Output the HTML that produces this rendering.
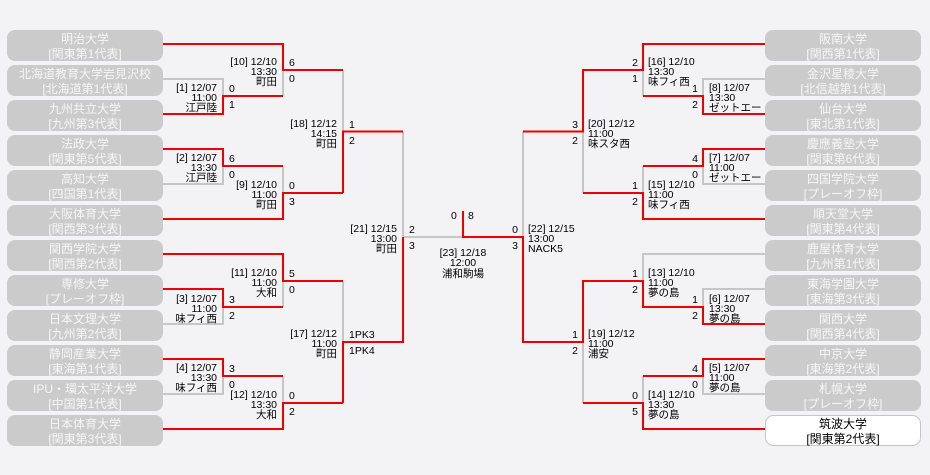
<!DOCTYPE html>
<html><head><meta charset="utf-8"><style>
html,body{margin:0;padding:0;background:#f3f2f4;}
svg{display:block;font-family:"Liberation Sans","Noto Sans CJK JP",sans-serif;}
.b{fill:#cbcbcb;}
.bt{fill:#f6f6f6;font-size:12px;text-anchor:middle;}
.l{font-size:10.5px;fill:#000;}
.e{text-anchor:end;}
.r{stroke:#ee0000;stroke-width:2;fill:none;}
.g{stroke:#c6c6c6;stroke-width:2;fill:none;}
</style></head><body>
<svg width="930" height="475" viewBox="0 0 930 475">
<g>
<rect class="b" x="7" y="30" width="156" height="31" rx="8"/>
<rect class="b" x="7" y="65" width="156" height="31" rx="8"/>
<rect class="b" x="7" y="100" width="156" height="31" rx="8"/>
<rect class="b" x="7" y="135" width="156" height="31" rx="8"/>
<rect class="b" x="7" y="170" width="156" height="31" rx="8"/>
<rect class="b" x="7" y="205" width="156" height="31" rx="8"/>
<rect class="b" x="7" y="240" width="156" height="31" rx="8"/>
<rect class="b" x="7" y="275" width="156" height="31" rx="8"/>
<rect class="b" x="7" y="310" width="156" height="31" rx="8"/>
<rect class="b" x="7" y="345" width="156" height="31" rx="8"/>
<rect class="b" x="7" y="380" width="156" height="31" rx="8"/>
<rect class="b" x="7" y="415" width="156" height="31" rx="8"/>
<text class="bt" x="85" y="43">明治大学</text><text class="bt" x="85" y="58">[関東第1代表]</text>
<text class="bt" x="85" y="78">北海道教育大学岩見沢校</text><text class="bt" x="85" y="93">[北海道第1代表]</text>
<text class="bt" x="85" y="113">九州共立大学</text><text class="bt" x="85" y="128">[九州第3代表]</text>
<text class="bt" x="85" y="148">法政大学</text><text class="bt" x="85" y="163">[関東第5代表]</text>
<text class="bt" x="85" y="183">高知大学</text><text class="bt" x="85" y="198">[四国第1代表]</text>
<text class="bt" x="85" y="218">大阪体育大学</text><text class="bt" x="85" y="233">[関西第3代表]</text>
<text class="bt" x="85" y="253">関西学院大学</text><text class="bt" x="85" y="268">[関西第2代表]</text>
<text class="bt" x="85" y="288">専修大学</text><text class="bt" x="85" y="303">[プレーオフ枠]</text>
<text class="bt" x="85" y="323">日本文理大学</text><text class="bt" x="85" y="338">[九州第2代表]</text>
<text class="bt" x="85" y="358">静岡産業大学</text><text class="bt" x="85" y="373">[東海第1代表]</text>
<text class="bt" x="85" y="393">IPU・環太平洋大学</text><text class="bt" x="85" y="408">[中国第1代表]</text>
<text class="bt" x="85" y="428">日本体育大学</text><text class="bt" x="85" y="443">[関東第3代表]</text>
</g>
<g>
<rect class="b" x="765" y="30" width="156" height="31" rx="8"/>
<rect class="b" x="765" y="65" width="156" height="31" rx="8"/>
<rect class="b" x="765" y="100" width="156" height="31" rx="8"/>
<rect class="b" x="765" y="135" width="156" height="31" rx="8"/>
<rect class="b" x="765" y="170" width="156" height="31" rx="8"/>
<rect class="b" x="765" y="205" width="156" height="31" rx="8"/>
<rect class="b" x="765" y="240" width="156" height="31" rx="8"/>
<rect class="b" x="765" y="275" width="156" height="31" rx="8"/>
<rect class="b" x="765" y="310" width="156" height="31" rx="8"/>
<rect class="b" x="765" y="345" width="156" height="31" rx="8"/>
<rect class="b" x="765" y="380" width="156" height="31" rx="8"/>
<rect x="765.5" y="415.5" width="155" height="30" rx="8" fill="#fff" stroke="#c6c6c6"/>
<text class="bt" x="843" y="43">阪南大学</text><text class="bt" x="843" y="58">[関西第1代表]</text>
<text class="bt" x="843" y="78">金沢星稜大学</text><text class="bt" x="843" y="93">[北信越第1代表]</text>
<text class="bt" x="843" y="113">仙台大学</text><text class="bt" x="843" y="128">[東北第1代表]</text>
<text class="bt" x="843" y="148">慶應義塾大学</text><text class="bt" x="843" y="163">[関東第6代表]</text>
<text class="bt" x="843" y="183">四国学院大学</text><text class="bt" x="843" y="198">[プレーオフ枠]</text>
<text class="bt" x="843" y="218">順天堂大学</text><text class="bt" x="843" y="233">[関東第4代表]</text>
<text class="bt" x="843" y="253">鹿屋体育大学</text><text class="bt" x="843" y="268">[九州第1代表]</text>
<text class="bt" x="843" y="288">東海学園大学</text><text class="bt" x="843" y="303">[東海第3代表]</text>
<text class="bt" x="843" y="323">関西大学</text><text class="bt" x="843" y="338">[関西第4代表]</text>
<text class="bt" x="843" y="358">中京大学</text><text class="bt" x="843" y="373">[東海第2代表]</text>
<text class="bt" x="843" y="393">札幌大学</text><text class="bt" x="843" y="408">[プレーオフ枠]</text>
<text class="bt" x="843" y="428" style="fill:#000">筑波大学</text><text class="bt" x="843" y="443" style="fill:#000">[関東第2代表]</text>
</g>
<g class="g">
<path d="M163 79H223V96"/>
<path d="M163 184H223V166"/>
<path d="M163 324H223V307"/>
<path d="M163 394H223V376"/>
<path d="M283 70V96"/>
<path d="M283 166V193"/>
<path d="M283 281V307"/>
<path d="M283 376V403"/>
<path d="M343 70V131.5"/>
<path d="M343 281V342"/>
<path d="M403 131.5V237H463"/>
<path d="M523 131.5V237"/>
<path d="M583 131.5V193"/>
<path d="M583 342V403"/>
<path d="M643 70V96"/>
<path d="M643 166V193"/>
<path d="M765 254H643V281"/>
<path d="M643 376V403"/>
<path d="M765 79H703V96"/>
<path d="M765 184H703V166"/>
<path d="M765 289H703V307"/>
<path d="M765 394H703V376"/>
</g>
<g class="r">
<path d="M163 44H283V70H343"/>
<path d="M163 114H223V96H283"/>
<path d="M163 149H223V166H283"/>
<path d="M163 219H283V193H343"/>
<path d="M163 254H283V281H343"/>
<path d="M163 289H223V307H283"/>
<path d="M163 359H223V376H283"/>
<path d="M163 429H283V403H343"/>
<path d="M343 193V131.5H403"/>
<path d="M343 403V342H403V237"/>
<path d="M463 211V237H523V342H583V281H643V307H703V324H765"/>
<path d="M523 131.5H583V70H643V44H765"/>
<path d="M583 193H643V219H765"/>
<path d="M643 96H703V114H765"/>
<path d="M643 166H703V149H765"/>
<path d="M583 403H643V429H765"/>
<path d="M643 376H703V359H765"/>
</g>
<g class="l e">
<text x="217" y="91">[1] 12/07</text><text x="217" y="101">11:00</text><text x="217" y="111">江戸陸</text>
<text x="217" y="161">[2] 12/07</text><text x="217" y="171">13:30</text><text x="217" y="181">江戸陸</text>
<text x="217" y="302">[3] 12/07</text><text x="217" y="312">11:00</text><text x="217" y="322">味フィ西</text>
<text x="217" y="371">[4] 12/07</text><text x="217" y="381">13:30</text><text x="217" y="391">味フィ西</text>
<text x="277" y="65">[10] 12/10</text><text x="277" y="75">13:30</text><text x="277" y="85">町田</text>
<text x="277" y="188">[9] 12/10</text><text x="277" y="198">11:00</text><text x="277" y="208">町田</text>
<text x="277" y="276">[11] 12/10</text><text x="277" y="286">11:00</text><text x="277" y="296">大和</text>
<text x="277" y="398">[12] 12/10</text><text x="277" y="408">13:30</text><text x="277" y="418">大和</text>
<text x="337" y="127">[18] 12/12</text><text x="337" y="137">14:15</text><text x="337" y="147">町田</text>
<text x="337" y="337">[17] 12/12</text><text x="337" y="347">11:00</text><text x="337" y="357">町田</text>
<text x="397" y="232">[21] 12/15</text><text x="397" y="242">13:00</text><text x="397" y="252">町田</text>
</g>
<g class="l">
<text x="229" y="92">0</text><text x="229" y="108">1</text>
<text x="229" y="162">6</text><text x="229" y="178">0</text>
<text x="229" y="303">3</text><text x="229" y="319">2</text>
<text x="229" y="372">3</text><text x="229" y="388">0</text>
<text x="289" y="66">6</text><text x="289" y="82">0</text>
<text x="289" y="189">0</text><text x="289" y="205">3</text>
<text x="289" y="277">5</text><text x="289" y="293">0</text>
<text x="289" y="399">0</text><text x="289" y="415">2</text>
<text x="349" y="128">1</text><text x="349" y="144">2</text>
<text x="349" y="338">1PK3</text><text x="349" y="354">1PK4</text>
<text x="409" y="233">2</text><text x="409" y="249">3</text>
<text x="451" y="219">0</text><text x="468" y="219">8</text>
<text x="463" y="256" text-anchor="middle">[23] 12/18</text><text x="463" y="266" text-anchor="middle">12:00</text><text x="463" y="277" text-anchor="middle">浦和駒場</text>
</g>
<g class="l e">
<text x="698" y="92">1</text><text x="698" y="108">2</text>
<text x="698" y="162">4</text><text x="698" y="178">0</text>
<text x="698" y="303">1</text><text x="698" y="319">2</text>
<text x="698" y="372">4</text><text x="698" y="388">0</text>
<text x="638" y="66">2</text><text x="638" y="82">1</text>
<text x="638" y="189">1</text><text x="638" y="205">2</text>
<text x="638" y="277">1</text><text x="638" y="293">2</text>
<text x="638" y="399">0</text><text x="638" y="415">5</text>
<text x="578" y="128">3</text><text x="578" y="144">2</text>
<text x="578" y="338">1</text><text x="578" y="354">2</text>
<text x="518" y="233">0</text><text x="518" y="249">3</text>
</g>
<g class="l">
<text x="709" y="91">[8] 12/07</text><text x="709" y="101">13:30</text><text x="709" y="111">ゼットエー</text>
<text x="709" y="161">[7] 12/07</text><text x="709" y="171">11:00</text><text x="709" y="181">ゼットエー</text>
<text x="709" y="302">[6] 12/07</text><text x="709" y="312">13:30</text><text x="709" y="322">夢の島</text>
<text x="709" y="371">[5] 12/07</text><text x="709" y="381">11:00</text><text x="709" y="391">夢の島</text>
<text x="648" y="65">[16] 12/10</text><text x="648" y="75">13:30</text><text x="648" y="85">味フィ西</text>
<text x="648" y="188">[15] 12/10</text><text x="648" y="198">11:00</text><text x="648" y="208">味フィ西</text>
<text x="648" y="276">[13] 12/10</text><text x="648" y="286">11:00</text><text x="648" y="296">夢の島</text>
<text x="648" y="398">[14] 12/10</text><text x="648" y="408">13:30</text><text x="648" y="418">夢の島</text>
<text x="588" y="127">[20] 12/12</text><text x="588" y="137">11:00</text><text x="588" y="147">味スタ西</text>
<text x="588" y="337">[19] 12/12</text><text x="588" y="347">11:00</text><text x="588" y="357">浦安</text>
<text x="528" y="232">[22] 12/15</text><text x="528" y="242">13:00</text><text x="528" y="252">NACK5</text>
</g>
</svg>
</body></html>
